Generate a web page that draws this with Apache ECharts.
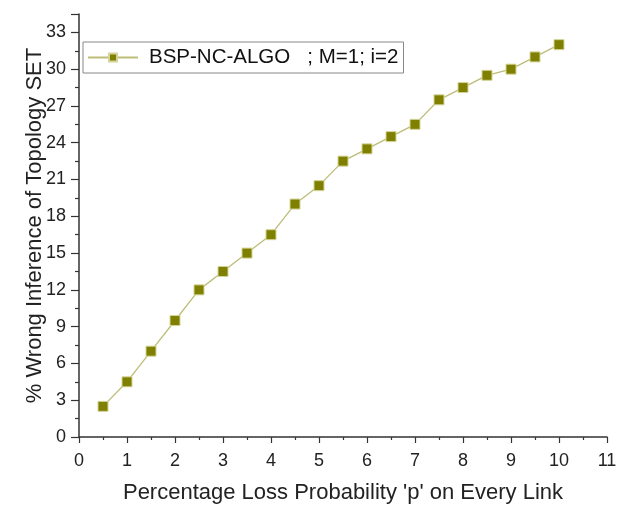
<!DOCTYPE html>
<html><head><meta charset="utf-8">
<script src="https://cdn.jsdelivr.net/npm/echarts@6/dist/echarts.min.js"></script>
<style>html,body{margin:0;padding:0;background:#fff}#c{width:630px;height:509px}</style>
</head><body><div id="c"></div>
<script>
const xValues = [0.5,1,1.5,2,2.5,3,3.5,4,4.5,5,5.5,6,6.5,7,7.5,8,8.5,9,9.5,10];
const yValues = [2.5,4.5,7,9.5,12,13.5,15,16.5,19,20.5,22.5,23.5,24.5,25.5,27.5,28.5,29.5,30,31,32];
const seriesName = "BSP-NC-ALGO   ; M=1; i=2";
const xTitle = "Percentage Loss Probability 'p' on Every Link";
const yTitle = "% Wrong Inference of Topology SET";

const chart = echarts.init(document.getElementById('c'));
const font = 'Liberation Sans, Arial, sans-serif';
chart.setOption({
  animation: false,
  backgroundColor: '#fff',
  grid: {left: 79, right: 23, top: 14, bottom: 70, containLabel: false},
  legend: {
    left: 83, top: 42,
    data: [seriesName],
    borderColor: '#888', borderWidth: 1, padding: [5, 5, 5, 4],
    itemWidth: 50, itemHeight: 10, itemGap: 8,
    textStyle: {fontFamily: font, fontSize: 20.5, color: '#111', padding: [0, 0, 0, 6]}
  },
  xAxis: {
    type: 'value', min: 0, max: 11, interval: 1,
    name: xTitle, nameLocation: 'middle', nameGap: 45, nameMoveOverlap: false,
    nameTextStyle: {fontFamily: font, fontSize: 22, color: '#222'},
    axisLine: {show: true, lineStyle: {color: '#333', width: 1.5}},
    axisTick: {show: true, length: 6, lineStyle: {color: '#333', width: 1.2}},
    minorTick: {show: true, splitNumber: 2, length: 3, lineStyle: {color: '#333', width: 1.2}},
    axisLabel: {fontFamily: font, fontSize: 18, color: '#222', margin: 15},
    splitLine: {show: false}
  },
  yAxis: {
    type: 'value', min: 0, max: 34.5, interval: 3,
    name: yTitle, nameLocation: 'middle', nameGap: 33, nameMoveOverlap: false,
    nameTextStyle: {fontFamily: font, fontSize: 22, color: '#222'},
    axisLine: {show: true, lineStyle: {color: '#333', width: 1.5}},
    axisTick: {show: true, length: 8, lineStyle: {color: '#333', width: 1.2}},
    minorTick: {show: true, splitNumber: 2, length: 4, lineStyle: {color: '#333', width: 1.2}},
    axisLabel: {fontFamily: font, fontSize: 18, color: '#222', margin: 13, showMaxLabel: false},
    splitLine: {show: false}
  },
  series: [{
    name: seriesName,
    type: 'line',
    data: xValues.map((x, i) => [x, yValues[i]]),
    symbol: 'rect', symbolSize: 10,
    itemStyle: {color: '#808000', borderColor: '#d4d49a', borderWidth: 1},
    lineStyle: {color: '#bdbd78', width: 1.3}
  }]
});
</script></body></html>
